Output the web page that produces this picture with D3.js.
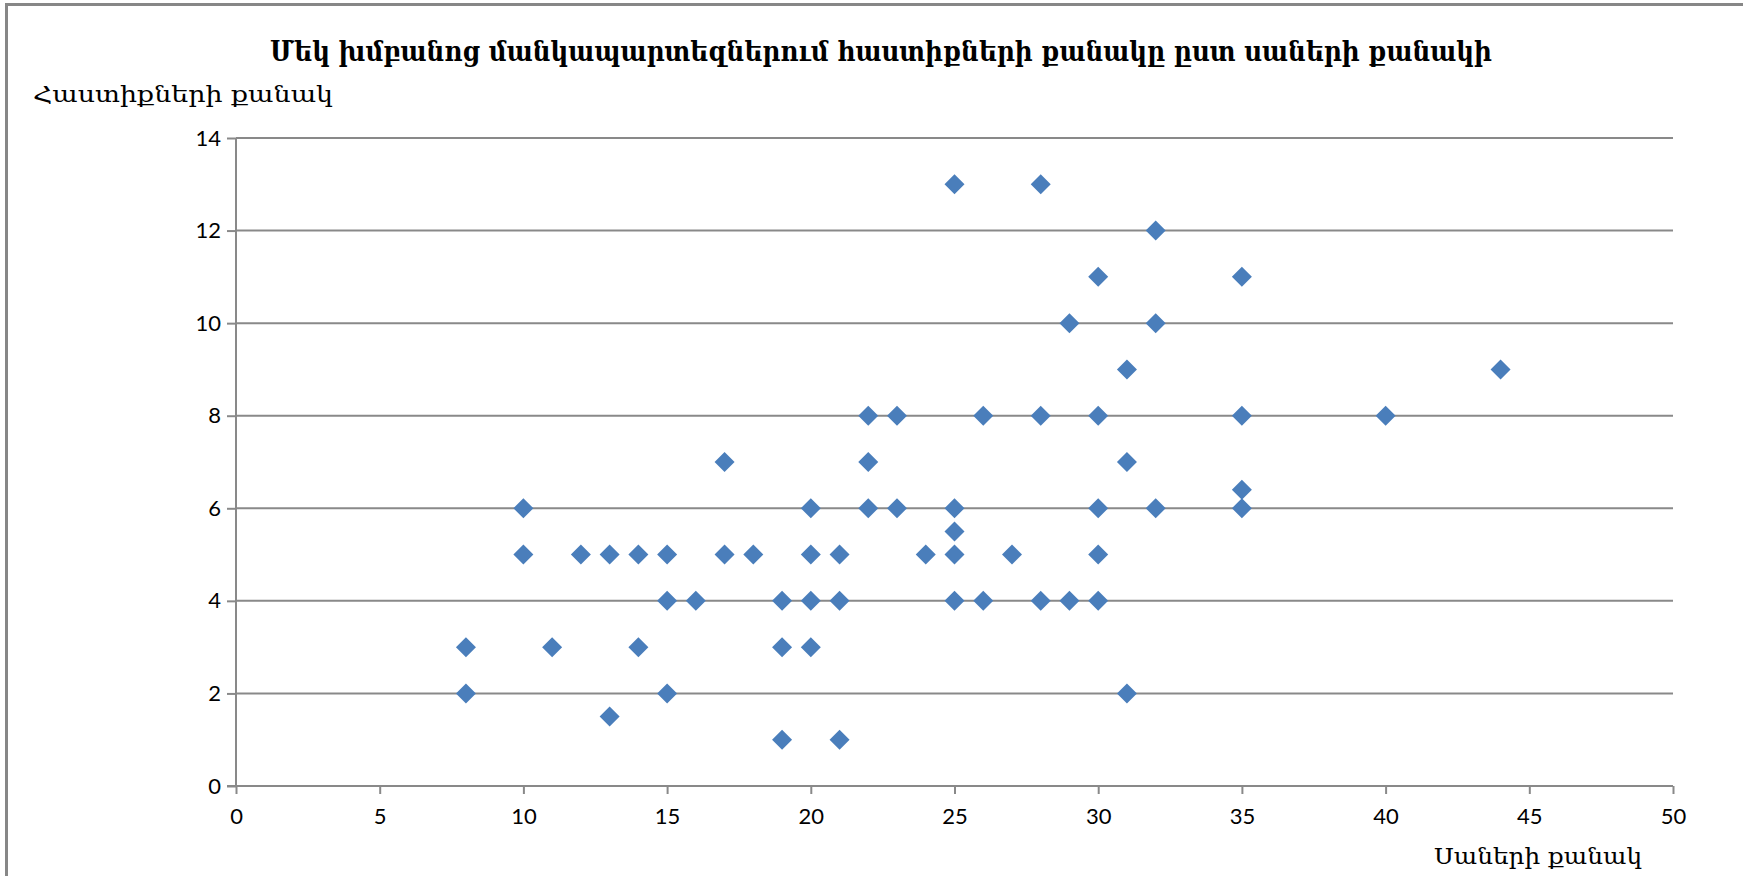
<!DOCTYPE html>
<html>
<head>
<meta charset="utf-8">
<script src="https://cdn.jsdelivr.net/npm/d3@7"></script>
<style>
  body { margin: 0; background: #fff; overflow: hidden; }
  .tick text { font-family: Lato, "Open Sans", sans-serif; font-size: 22px; fill: #000; }
</style>
</head>
<body>
<div id="chart"></div>
<script>
// Data: number of pupils vs number of staff positions per group
const pupils = [
    25, 28,
    32,
    30, 35,
    29, 32,
    31, 44,
    22, 23, 26, 28, 30, 35, 40,
    17, 22, 31,
    35,
    10, 20, 22, 23, 25, 30, 32, 35,
    25,
    10, 12, 13, 14, 15, 17, 18, 20, 21, 24, 25, 27, 30,
    15, 16, 19, 20, 21, 25, 26, 28, 29, 30,
    8, 11, 14, 19, 20,
    8, 15, 31,
    13,
    19, 21
];
const staff = [
    13, 13,
    12,
    11, 11,
    10, 10,
    9, 9,
    8, 8, 8, 8, 8, 8, 8,
    7, 7, 7,
    6.4,
    6, 6, 6, 6, 6, 6, 6, 6,
    5.5,
    5, 5, 5, 5, 5, 5, 5, 5, 5, 5, 5, 5, 5,
    4, 4, 4, 4, 4, 4, 4, 4, 4, 4,
    3, 3, 3, 3, 3,
    2, 2, 2,
    1.5,
    1, 1
];
const xTicks = [0, 5, 10, 15, 20, 25, 30, 35, 40, 45, 50];
const yTicks = [0, 2, 4, 6, 8, 10, 12, 14];

const TITLE = "Մեկ խմբանոց մանկապարտեզներում հաստիքների քանակը ըստ սաների քանակի";
const Y_LABEL = "Հաստիքների քանակ";
const X_LABEL = "Սաների քանակ";

const WIDTH = 1743;
const HEIGHT = 876;
const margin = { top: 138, right: 70, bottom: 90, left: 236 };
const innerW = 1673 - margin.left;
const innerH = 786 - margin.top;

const GRID_COLOR = "#898989";
const MARKER_COLOR = "#4a7ebb";
const ARMENIAN_FONT = "'DejaVu Serif Condensed', 'DejaVu Serif', serif";

const root = d3.select("#chart")
    .append("svg")
    .attr("width", WIDTH)
    .attr("height", HEIGHT);

// Outer chart frame - the picture is cropped, so only top and left edges show
root.append("rect")
    .attr("x", 6.5)
    .attr("y", 4.5)
    .attr("width", WIDTH + 20)
    .attr("height", HEIGHT + 20)
    .attr("fill", "none")
    .attr("stroke", "#878787")
    .attr("stroke-width", 3);

const svg = root.append("g")
    .attr("transform", `translate(${margin.left},${margin.top})`);

const x = d3.scaleLinear().domain([0, 50]).range([0, innerW]);
const y = d3.scaleLinear().domain([0, 14]).range([innerH, 0]);

// Horizontal gridlines
svg.append("g")
    .selectAll("line")
    .data(yTicks.filter(d => d > 0))
    .enter()
    .append("line")
    .attr("x1", 0)
    .attr("x2", innerW)
    .attr("y1", d => y(d))
    .attr("y2", d => y(d))
    .attr("stroke", GRID_COLOR)
    .attr("stroke-width", 2);

// Axes
const yAxis = svg.append("g")
    .call(d3.axisLeft(y).tickValues(yTicks).tickSize(9).tickPadding(6));
const xAxis = svg.append("g")
    .attr("transform", `translate(0,${innerH})`)
    .call(d3.axisBottom(x).tickValues(xTicks).tickSize(8).tickPadding(14));

[xAxis, yAxis].forEach(a => {
    a.select(".domain").attr("stroke", GRID_COLOR).attr("stroke-width", 2);
    a.selectAll(".tick line").attr("stroke", GRID_COLOR).attr("stroke-width", 2);
});
// Excel draws the y-axis line only, no outer tick stub
yAxis.select(".domain").attr("d", `M0,${innerH}V0`);
xAxis.select(".domain").attr("d", `M-9,0H${innerW}`);

// Diamond markers
svg.append("g")
    .selectAll("path")
    .data(pupils.map((p, i) => ({ x: p, y: staff[i] })))
    .enter()
    .append("path")
    .attr("d", "M0,-10L10,0L0,10L-10,0Z")
    .attr("transform", d => `translate(${x(d.x)},${y(d.y)})`)
    .attr("fill", MARKER_COLOR);

// Title and axis labels
root.append("text")
    .attr("x", 881)
    .attr("y", 61)
    .attr("text-anchor", "middle")
    .attr("font-family", ARMENIAN_FONT)
    .attr("font-weight", "bold")
    .attr("font-size", 27)
    .attr("textLength", 1222)
    .attr("lengthAdjust", "spacingAndGlyphs")
    .text(TITLE);

root.append("text")
    .attr("x", 33)
    .attr("y", 102)
    .attr("font-family", ARMENIAN_FONT)
    .attr("font-size", 23)
    .attr("textLength", 300)
    .attr("lengthAdjust", "spacingAndGlyphs")
    .text(Y_LABEL);

root.append("text")
    .attr("x", 1434)
    .attr("y", 864)
    .attr("font-family", ARMENIAN_FONT)
    .attr("font-size", 23)
    .attr("textLength", 208)
    .attr("lengthAdjust", "spacingAndGlyphs")
    .text(X_LABEL);
</script>
</body>
</html>
